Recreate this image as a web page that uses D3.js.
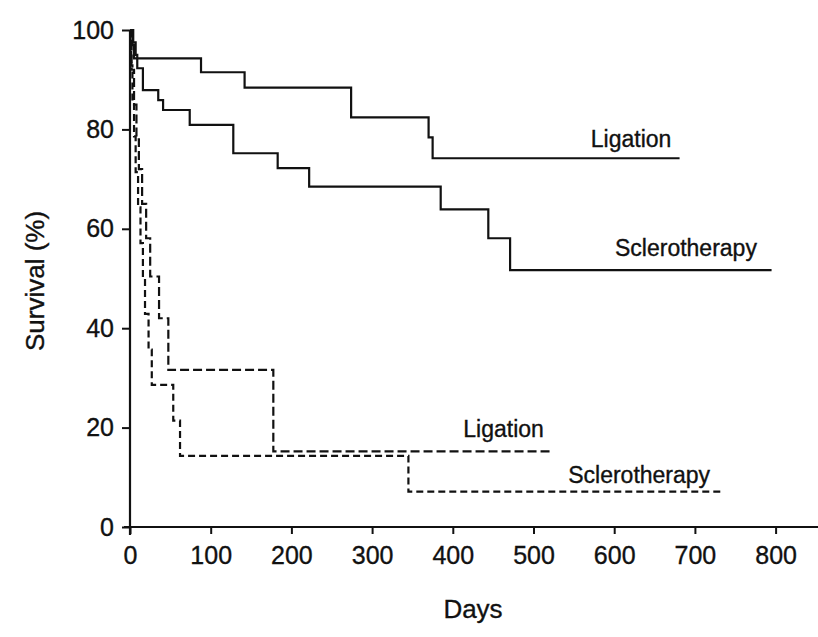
<!DOCTYPE html>
<html>
<head>
<meta charset="utf-8">
<script src="https://cdn.jsdelivr.net/npm/d3@7"></script>
<style>
  html, body { margin: 0; padding: 0; background: #fff; }
  svg text { font-family: "Liberation Sans", Arial, Helvetica, sans-serif; fill: #111; stroke: #111; stroke-width: 0.35px; }
</style>
</head>
<body>
<svg id="chart" width="818" height="637"></svg>
<script>
// Kaplan-Meier survival, ligation vs sclerotherapy (solid: one cohort, dashed: the other)
const ligationSolidDays = [0, 3, 5, 88, 142, 274, 370, 375, 681];
const ligationSolidSurv = [100, 97, 94.3, 91.5, 88.4, 82.4, 78.4, 74.2, 74.2];

const scleroSolidDays = [0, 4, 7, 9, 16, 35, 41, 74, 128, 183, 222, 385, 444, 471, 795];
const scleroSolidSurv = [100, 97.5, 95, 92.3, 87.9, 85.9, 83.9, 80.9, 75.2, 72.2, 68.5, 63.9, 58.1, 51.7, 51.7];

const ligationDashedDays = [0, 2, 5, 8, 11, 15, 20, 25, 36, 47.5, 177.6, 522.5];
const ligationDashedSurv = [100, 92, 85, 78, 72, 65, 58.1, 50.4, 42.0, 31.6, 15.2, 15.2];

const scleroDashedDays = [0, 1.5, 3, 5, 7, 10, 13, 16, 18.6, 23, 27, 53.6, 62, 345, 733];
const scleroDashedSurv = [100, 92.9, 85.7, 78.6, 71.4, 64.3, 57.1, 50, 42.9, 35.7, 28.6, 21.4, 14.3, 7.1, 7.1];

const xTicks = [0, 100, 200, 300, 400, 500, 600, 700, 800];
const yTicks = [0, 20, 40, 60, 80, 100];

const curveLabels = [
  { text: "Ligation", day: 571, surv: 76.5 },
  { text: "Sclerotherapy", day: 601, surv: 54.5 },
  { text: "Ligation", day: 413, surv: 18.2 },
  { text: "Sclerotherapy", day: 543, surv: 8.8 }
];

const svg = d3.select("#chart");

const x = d3.scaleLinear().domain([0, 800]).range([130, 775.6]);
const y = d3.scaleLinear().domain([0, 100]).range([527, 30]);

// Axes
const xAxis = svg.append("g")
  .attr("transform", `translate(0,${y(0)})`)
  .call(d3.axisBottom(x).tickValues(xTicks).tickSize(7).tickSizeOuter(0).tickPadding(10));
const yAxis = svg.append("g")
  .attr("transform", `translate(${x(0)},0)`)
  .call(d3.axisLeft(y).tickValues(yTicks).tickSize(8).tickSizeOuter(0).tickPadding(8));

[xAxis, yAxis].forEach(g => {
  g.select(".domain").remove();
  g.selectAll(".tick line").attr("stroke", "#111").attr("stroke-width", 2);
  g.selectAll(".tick text").attr("font-size", 25).style("fill", "#111")
    .attr("font-family", "'Liberation Sans', Arial, sans-serif");
});
xAxis.selectAll(".tick text").attr("dy", "0.78em");

// axis lines
svg.append("line")
  .attr("x1", x(0) - 6).attr("x2", 818)
  .attr("y1", y(0)).attr("y2", y(0))
  .attr("stroke", "#111").attr("stroke-width", 2.2);
svg.append("line")
  .attr("x1", x(0)).attr("x2", x(0))
  .attr("y1", y(100)).attr("y2", y(0) + 8)
  .attr("stroke", "#111").attr("stroke-width", 2.2);

// Survival curves
const line = d3.line()
  .x(d => x(d[0]))
  .y(d => y(d[1]))
  .curve(d3.curveStepAfter);

const series = [
  { days: ligationSolidDays, surv: ligationSolidSurv, dash: null },
  { days: scleroSolidDays, surv: scleroSolidSurv, dash: null },
  { days: ligationDashedDays, surv: ligationDashedSurv, dash: "9,4" },
  { days: scleroDashedDays, surv: scleroDashedSurv, dash: "7,4" }
];

series.forEach(s => {
  svg.append("path")
    .datum(d3.zip(s.days, s.surv))
    .attr("d", line)
    .attr("fill", "none")
    .attr("stroke", "#111")
    .attr("stroke-width", 2.2)
    .attr("stroke-dasharray", s.dash);
});

// Curve labels
svg.selectAll(".curve-label")
  .data(curveLabels)
  .enter().append("text")
  .attr("class", "curve-label")
  .attr("x", d => x(d.day))
  .attr("y", d => y(d.surv))
  .attr("font-size", 23)
  .text(d => d.text);

// Axis titles
svg.append("text")
  .attr("x", 473).attr("y", 618)
  .attr("text-anchor", "middle")
  .attr("font-size", 26)
  .text("Days");

svg.append("text")
  .attr("transform", "translate(44,281) rotate(-90)")
  .attr("text-anchor", "middle")
  .attr("font-size", 26)
  .text("Survival (%)");
</script>
</body>
</html>
